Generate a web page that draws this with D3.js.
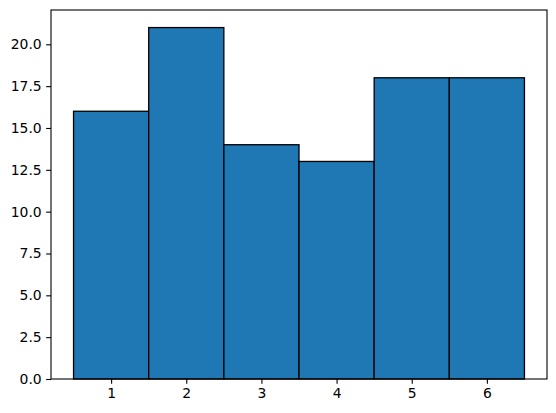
<!DOCTYPE html>
<html><head><meta charset="utf-8">
<script src="https://cdn.jsdelivr.net/npm/d3@7"></script>
<style>body{margin:0;background:#fff}svg{display:block}</style>
</head><body>
<script>
const binCenters = [1, 2, 3, 4, 5, 6];
const counts = [16, 21, 14, 13, 18, 18];
const yTicks = [0, 2.5, 5, 7.5, 10, 12.5, 15, 17.5, 20];
const xTicks = [1, 2, 3, 4, 5, 6];

const W = 556, H = 413;
const L = 51, R = 547, T = 10, B = 379;
const svg = d3.select("body").append("svg").attr("width", W).attr("height", H);
const x = d3.scaleLinear().domain([0.2, 6.8]).range([L, R]);
const y = d3.scaleLinear().domain([0, 22.05]).range([B, T]);

svg.append("g").selectAll("rect").data(binCenters).join("rect")
  .attr("x", d => x(d - 0.5)).attr("width", d => x(d + 0.5) - x(d - 0.5))
  .attr("y", (d, i) => y(counts[i])).attr("height", (d, i) => y(0) - y(counts[i]))
  .attr("fill", "#1f77b4").attr("stroke", "#000").attr("stroke-width", 1.3);

const font = "DejaVu Sans, sans-serif";
const xa = svg.append("g").attr("transform", `translate(0,${B})`)
  .call(d3.axisBottom(x).tickValues(xTicks).tickSize(4.86).tickPadding(4.5).tickFormat(d3.format("d")));
const ya = svg.append("g").attr("transform", `translate(${L},0)`)
  .call(d3.axisLeft(y).tickValues(yTicks).tickSize(4.86).tickPadding(4.5).tickFormat(d3.format(".1f")));
[xa, ya].forEach(g => {
  g.select(".domain").remove();
  g.selectAll("line").attr("stroke", "#000").attr("stroke-width", 1.1);
  g.selectAll("text").attr("font-family", font).attr("font-size", "13.9px").attr("fill", "#000");
});

svg.append("rect").attr("x", L).attr("y", T).attr("width", R - L).attr("height", B - T)
  .attr("fill", "none").attr("stroke", "#000").attr("stroke-width", 1.1);
</script>
</body></html>
